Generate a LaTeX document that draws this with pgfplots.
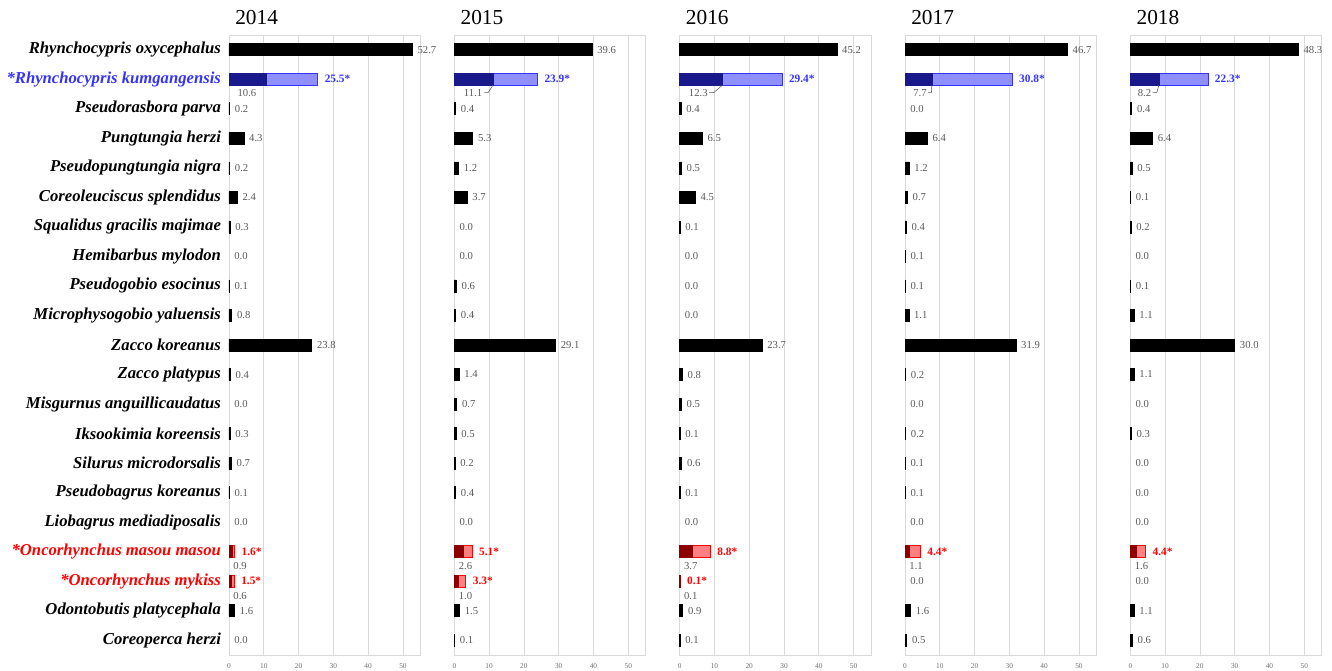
\documentclass[border=0pt]{standalone}
\usepackage{pgfplots}
\pgfplotsset{compat=1.18}
\usepackage{pgfplotstable}
\usepackage{fontspec}
\setmainfont{Liberation Serif}

\definecolor{labblue}{RGB}{51,51,255}
\definecolor{darkblue}{RGB}{25,25,140}
\definecolor{lightblue}{RGB}{143,143,255}
\definecolor{darkred}{RGB}{140,0,0}
\definecolor{lightred}{RGB}{255,128,128}
\definecolor{labgray}{RGB}{89,89,89}
\definecolor{gridgray}{RGB}{217,217,217}
\definecolor{tickgray}{RGB}{110,110,110}

\pgfplotstableread{
row y14 y15 y16 y17 y18
0 52.7 39.6 45.2 46.7 48.3
2 0.2 0.4 0.4 0.0 0.4
3 4.3 5.3 6.5 6.4 6.4
4 0.2 1.2 0.5 1.2 0.5
5 2.4 3.7 4.5 0.7 0.1
6 0.3 0.0 0.1 0.4 0.2
7 0.0 0.0 0.0 0.1 0.0
8 0.1 0.6 0.0 0.1 0.1
9 0.8 0.4 0.0 1.1 1.1
10 23.8 29.1 23.7 31.9 30.0
11 0.4 1.4 0.8 0.2 1.1
12 0.0 0.7 0.5 0.0 0.0
13 0.3 0.5 0.1 0.2 0.3
14 0.7 0.2 0.6 0.1 0.0
15 0.1 0.4 0.1 0.1 0.0
16 0.0 0.0 0.0 0.0 0.0
19 1.6 1.5 0.9 1.6 1.1
20 0.0 0.1 0.1 0.5 0.6
}\blk

\newcommand{\numfmt}{\pgfmathprintnumber[fixed,fixed zerofill,precision=1]{\pgfplotspointmeta}}

\pgfplotsset{
  panel/.style={
    scale only axis, width=143.5pt, height=465pt,
    xmin=0, xmax=55, ymin=-0.5, ymax=20.5, y dir=reverse,
    axis line style={draw=gridgray, line width=0.6pt},
    xtick={0,10,...,50}, xmajorgrids,
    major grid style={draw=gridgray, line width=0.6pt},
    ytick=\empty, major tick length=0pt,
    xticklabel style={font=\fontsize{5.5}{6}\selectfont, text=tickgray, yshift=-3pt},
    title style={anchor=south west, at={(0,1)}, xshift=4.5pt, yshift=1.25pt, inner sep=0pt, font=\fontsize{16}{18}\selectfont},
    clip=false,
    /pgf/number format/assume math mode=true,
  },
  blk/.style={xbar, bar shift=0pt, bar width=9pt, fill=black, draw=black, line width=0.5pt,
    x filter/.expression={x<=0 ? nan : x}},
  vlab/.style={draw=none, mark=none, point meta=x, nodes near coords={\numfmt},
    every node near coord/.append style={anchor=west, xshift=3.75pt, inner sep=0pt, text=labgray, font=\fontsize{8}{9}\selectfont}},
  bluetot/.style={xbar, bar shift=0pt, bar width=9pt, fill=lightblue, draw=labblue, line width=0.6pt,
    point meta=x, nodes near coords={\numfmt*},
    every node near coord/.append style={anchor=west, xshift=5pt, inner sep=0pt, text=labblue, font=\fontsize{8.5}{10}\selectfont\bfseries}},
  bluesub/.style={xbar, bar shift=0pt, bar width=9pt, fill=darkblue, draw=darkblue, line width=0.3pt},
  redtot/.style={xbar, bar shift=0pt, bar width=9pt, fill=lightred, draw=red, line width=0.6pt,
    point meta=x, nodes near coords={\numfmt*},
    every node near coord/.append style={anchor=west, xshift=5pt, inner sep=0pt, text=red, font=\fontsize{8.5}{10}\selectfont\bfseries}},
  redsub/.style={xbar, bar shift=0pt, bar width=9pt, fill=darkred, draw=darkred, line width=0.3pt},
  sublab/.style={draw=none, mark=none, point meta=explicit, nodes near coords={\numfmt},
    every node near coord/.append style={anchor=west, inner sep=0pt, text=labgray, font=\fontsize{8}{9}\selectfont}},
  leader/.style={draw=labgray, line width=0.4pt},
}

\begin{document}
\begin{tikzpicture}
\path[use as bounding box] (-171.75pt,-12pt) rectangle (827.25pt,491.25pt);

% ---------------- 2014
\begin{axis}[panel, at={(0pt,0pt)}, anchor=south west, title={2014},
  ytick={0,...,20},
  yticklabel style={font=\fontsize{12.5}{14}\selectfont\bfseries\itshape, xshift=-2.5pt},
  yticklabels={Rhynchocypris oxycephalus, \textcolor{labblue}{*Rhynchocypris kumgangensis}, Pseudorasbora parva, Pungtungia herzi, Pseudopungtungia nigra, Coreoleuciscus splendidus, Squalidus gracilis majimae, Hemibarbus mylodon, Pseudogobio esocinus, Microphysogobio yaluensis, Zacco koreanus, Zacco platypus, Misgurnus anguillicaudatus, Iksookimia koreensis, Silurus microdorsalis, Pseudobagrus koreanus, Liobagrus mediadiposalis, \textcolor{red}{*Oncorhynchus masou masou}, \textcolor{red}{*Oncorhynchus mykiss}, Odontobutis platycephala, Coreoperca herzi}]
\addplot[blk] table[x=y14, y=row] {\blk};
\addplot[vlab] table[x=y14, y=row] {\blk};
\addplot[bluetot] coordinates {(25.5,1)};
\addplot[bluesub] coordinates {(10.6,1)};
\addplot[sublab] coordinates {(2.4,1.48) [10.6]};
\addplot[redtot] coordinates {(1.6,17)};
\addplot[redsub] coordinates {(0.9,17)};
\addplot[sublab] coordinates {(1.2,17.5) [0.9]};
\addplot[redtot] coordinates {(1.5,18)};
\addplot[redsub] coordinates {(0.6,18)};
\addplot[sublab] coordinates {(1.2,18.5) [0.6]};
\end{axis}

% ---------------- 2015
\begin{axis}[panel, at={(169pt,0pt)}, anchor=south west, title={2015}]
\addplot[blk] table[x=y15, y=row] {\blk};
\addplot[vlab] table[x=y15, y=row] {\blk};
\addplot[bluetot] coordinates {(23.9,1)};
\addplot[bluesub] coordinates {(11.1,1)};
\addplot[sublab] coordinates {(2.7,1.48) [11.1]};
\addplot[leader] coordinates {(8.6,1.45) (9.7,1.45) (11.1,1.2)};
\addplot[redtot] coordinates {(5.1,17)};
\addplot[redsub] coordinates {(2.6,17)};
\addplot[sublab] coordinates {(1.2,17.5) [2.6]};
\addplot[redtot] coordinates {(3.3,18)};
\addplot[redsub] coordinates {(1.0,18)};
\addplot[sublab] coordinates {(1.2,18.5) [1.0]};
\end{axis}

% ---------------- 2016
\begin{axis}[panel, at={(338pt,0pt)}, anchor=south west, title={2016}]
\addplot[blk] table[x=y16, y=row] {\blk};
\addplot[vlab] table[x=y16, y=row] {\blk};
\addplot[bluetot] coordinates {(29.4,1)};
\addplot[bluesub] coordinates {(12.3,1)};
\addplot[sublab] coordinates {(2.6,1.48) [12.3]};
\addplot[leader] coordinates {(8.5,1.45) (9.8,1.45) (12.3,1.2)};
\addplot[redtot] coordinates {(8.8,17)};
\addplot[redsub] coordinates {(3.7,17)};
\addplot[sublab] coordinates {(1.2,17.5) [3.7]};
\addplot[redtot] coordinates {(0.1,18)};
\addplot[redsub] coordinates {(0.1,18)};
\addplot[sublab] coordinates {(1.2,18.5) [0.1]};
\end{axis}

% ---------------- 2017
\begin{axis}[panel, at={(507pt,0pt)}, anchor=south west, title={2017}]
\addplot[blk] table[x=y17, y=row] {\blk};
\addplot[vlab] table[x=y17, y=row] {\blk};
\addplot[vlab] coordinates {(0,18)};
\addplot[bluetot] coordinates {(30.8,1)};
\addplot[bluesub] coordinates {(7.7,1)};
\addplot[sublab] coordinates {(2.3,1.48) [7.7]};
\addplot[leader] coordinates {(6.6,1.45) (7.6,1.45) (7.7,1.2)};
\addplot[redtot] coordinates {(4.4,17)};
\addplot[redsub] coordinates {(1.1,17)};
\addplot[sublab] coordinates {(1.2,17.5) [1.1]};
\end{axis}

% ---------------- 2018
\begin{axis}[panel, at={(676pt,0pt)}, anchor=south west, title={2018}]
\addplot[blk] table[x=y18, y=row] {\blk};
\addplot[vlab] table[x=y18, y=row] {\blk};
\addplot[vlab] coordinates {(0,18)};
\addplot[bluetot] coordinates {(22.3,1)};
\addplot[bluesub] coordinates {(8.2,1)};
\addplot[sublab] coordinates {(2.1,1.48) [8.2]};
\addplot[leader] coordinates {(6.4,1.45) (7.6,1.45) (8.2,1.2)};
\addplot[redtot] coordinates {(4.4,17)};
\addplot[redsub] coordinates {(1.6,17)};
\addplot[sublab] coordinates {(1.2,17.5) [1.6]};
\end{axis}
\end{tikzpicture}
\end{document}
